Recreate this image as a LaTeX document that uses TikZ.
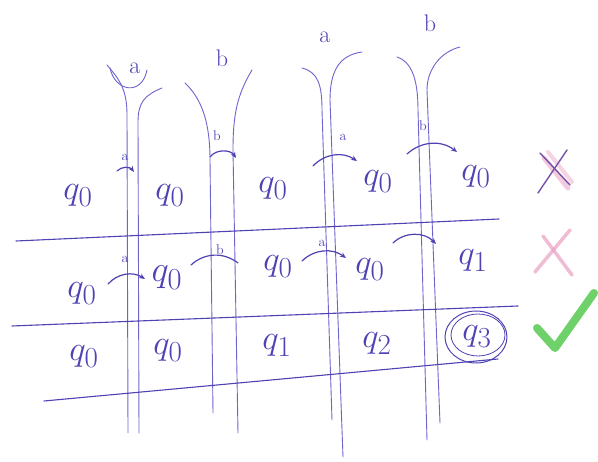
\documentclass[tikz,border=0pt]{standalone}
\usetikzlibrary{arrows.meta}
\definecolor{ink}{RGB}{78,66,180}
\definecolor{inkl}{RGB}{110,100,205}
\definecolor{xpurple}{RGB}{120,80,170}
\definecolor{xpink}{RGB}{235,160,195}
\definecolor{okgreen}{RGB}{95,205,90}
\begin{document}
\begin{tikzpicture}[x=1pt,y=-1pt,line cap=round,line join=round,
  tube/.style={draw=inkl,line width=0.9pt},
  rule/.style={draw=ink,line width=1.1pt},
  st/.style={text=ink,font=\fontsize{24.88}{26}\selectfont,anchor=base,inner sep=0pt,scale=1.4,transform shape},
  sts/.style={st,scale=1.05},
  lab/.style={text=ink,font=\fontsize{24}{24}\selectfont,inner sep=0pt},
  slab/.style={text=ink,font=\fontsize{14}{14}\selectfont,inner sep=0pt},
  tr/.style={draw=ink,line width=1.2pt,-{Stealth[length=6pt,width=5pt]}},
  trn/.style={draw=ink,line width=1.2pt}]
\useasboundingbox (0,0) rectangle (598,462);
\fill[white] (0,0) rectangle (598,462);

% tubes
\draw[tube] (107,65) .. controls (120,80) and (127,90) .. (127,115) -- (128,433);
\draw[tube] (162,88) .. controls (145,95) and (138,102) .. (138,122) -- (139,433);
\draw[tube] (110,68) .. controls (115,92) and (142,96) .. (147,70);
\draw[tube] (185,83) .. controls (203,100) and (210,125) .. (210,160) -- (213,413);
\draw[tube] (252,70) .. controls (237,95) and (233,115) .. (233,150) -- (238,433);
\draw[tube] (302,68) .. controls (318,72) and (322,85) .. (322,110) -- (332,420);
\draw[tube] (362,52) .. controls (340,55) and (330,70) .. (330,100) -- (343,457);
\draw[tube] (397,57) .. controls (412,62) and (418,80) .. (418,110) -- (427,440);
\draw[tube] (460,47) .. controls (440,52) and (427,70) .. (427,90) -- (440,423);

% tube labels
\node[lab] (ta) at (135,68) {a};
\node[lab] (tb) at (222,58) {b};
\node[lab] (tc) at (325,37) {a};
\node[lab] (td) at (430,23) {b};

% horizontal rules
\coordinate (h1l) at (16,241); \coordinate (h1r) at (499,219);
\coordinate (h2l) at (12,326); \coordinate (h2r) at (518,306);
\coordinate (h3l) at (44,401); \coordinate (h3r) at (498,359);
\draw[rule] (h1l) -- (h1r);
\draw[rule] (h2l) -- (h2r);
\draw[rule] (h3l) -- (h3r);

% row 1
\node[st] (r11) at (78,200) {$q_0$};
\node[st] (r12) at (170,200) {$q_0$};
\node[st] (r13) at (273,193) {$q_0$};
\node[st] (r14) at (378,186) {$q_0$};
\node[st] (r15) at (476,181) {$q_0$};
% row 2
\node[st] (r21) at (82,298) {$q_0$};
\node[sts] (r22) at (167,282) {$q_0$};
\node[st] (r23) at (278,271) {$q_0$};
\node[st] (r24) at (370,274) {$q_0$};
\node[st] (r25) at (473,265) {$q_1$};
% row 3
\node[st] (r31) at (84,361) {$q_0$};
\node[st] (r32) at (168,355) {$q_0$};
\node[st] (r33) at (277,350) {$q_1$};
\node[st] (r34) at (377,348) {$q_2$};
\node[st] (r35) at (477,341) {$q_3$};
\draw[draw=ink,line width=1pt] (476,337) ellipse [x radius=31,y radius=26];
\draw[draw=ink,line width=0.8pt] (478,335) ellipse [x radius=27,y radius=21];

% row 1 transitions
\coordinate (p1s) at (117,171); \coordinate (p1e) at (134,172);
\draw[tr] (p1s) to[bend left=50] (p1e);
\node[slab] (l1) at (125,157) {a};
\coordinate (p2s) at (210,157); \coordinate (p2e) at (236,158);
\draw[tr] (p2s) to[bend left=55] (p2e);
\node[slab] (l2) at (217,136) {b};
\coordinate (p3s) at (313,166); \coordinate (p3e) at (357,161);
\draw[tr] (p3s) to[bend left=40] (p3e);
\node[slab] (l3) at (343,137) {a};
\coordinate (p4s) at (407,154); \coordinate (p4e) at (457,152);
\draw[tr] (p4s) to[bend left=40] (p4e);
\node[slab] (l4) at (423,126) {b};

% row 2 transitions
\coordinate (q1s) at (108,284); \coordinate (q1e) at (145,279);
\draw[tr] (q1s) to[bend left=40] (q1e);
\node[slab] (m1) at (125,259) {a};
\coordinate (q2s) at (191,265); \coordinate (q2e) at (238,263);
\draw[trn] (q2s) to[bend left=40] (q2e);
\node[slab] (m2) at (220,250) {b};
\coordinate (q3s) at (302,261); \coordinate (q3e) at (346,258);
\draw[tr] (q3s) to[bend left=40] (q3e);
\node[slab] (m3) at (322,243) {a};
\coordinate (q4s) at (393,243); \coordinate (q4e) at (436,244);
\draw[tr] (q4s) to[bend left=45] (q4e);

% marks
\draw[xpink,line width=5pt,opacity=0.55] (544,158) -- (568,188);
\draw[xpink,line width=4pt,opacity=0.45] (548,152) -- (572,182);
\draw[xpurple,line width=1.4pt] (540,153) -- (570,185);
\draw[xpurple,line width=1.4pt] (538,193) -- (567,150);
\draw[xpink,line width=3.5pt,opacity=0.7] (543,236) -- (572,275);
\draw[xpink,line width=3.5pt,opacity=0.7] (535,272) -- (570,230);
\draw[okgreen,line width=8pt,opacity=0.9] (537,328) -- (555,348) -- (594,293);
\end{tikzpicture}
\end{document}
